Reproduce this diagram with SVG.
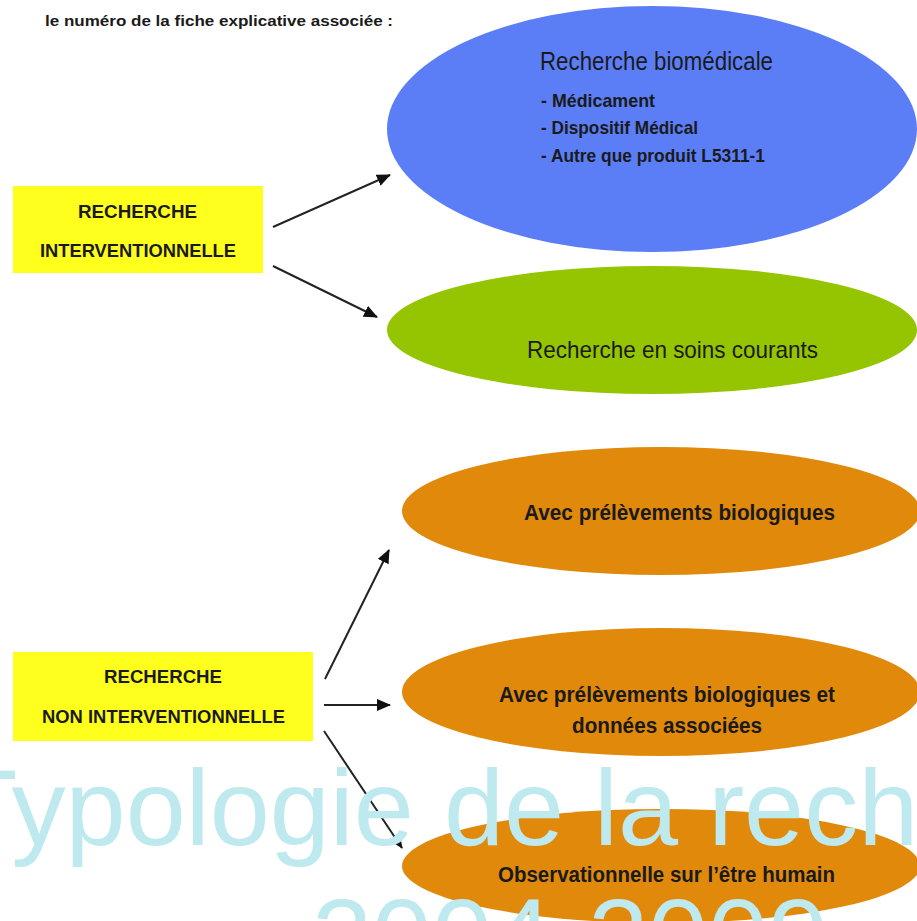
<svg xmlns="http://www.w3.org/2000/svg" width="917" height="921" viewBox="0 0 917 921">
<style>
.t{font-family:"Liberation Sans",Arial,sans-serif;fill:#1a1a1a}
.b{font-weight:bold}
.wm{font-family:"Liberation Sans",Arial,sans-serif;fill:#bde9ef;font-size:108px;text-anchor:middle}
.ln{stroke:#222;stroke-width:2;fill:none;marker-end:url(#ah)}
</style>
<defs>
<marker id="ah" markerUnits="userSpaceOnUse" markerWidth="14" markerHeight="12" refX="13" refY="6" orient="auto">
<path d="M0,0 L14,6 L0,12 Z" fill="#111"/>
</marker>
</defs>
<rect width="917" height="921" fill="#ffffff"/>
<text class="t b" x="45" y="26" font-size="14" textLength="348" lengthAdjust="spacingAndGlyphs" fill="#2a2a2a">le numéro de la fiche explicative associée :</text>

<g id="box-interventionnelle">
<rect x="13" y="186" width="250" height="87" fill="#ffff1e"/>
<text class="t b" x="78" y="218" font-size="18" textLength="119" lengthAdjust="spacingAndGlyphs">RECHERCHE</text>
<text class="t b" x="40" y="257" font-size="18" textLength="196" lengthAdjust="spacingAndGlyphs">INTERVENTIONNELLE</text>
</g>

<g id="box-non-interventionnelle">
<rect x="13" y="652" width="300" height="89" fill="#ffff1e"/>
<text class="t b" x="104" y="683" font-size="18" textLength="118" lengthAdjust="spacingAndGlyphs">RECHERCHE</text>
<text class="t b" x="42" y="723" font-size="18" textLength="243" lengthAdjust="spacingAndGlyphs">NON INTERVENTIONNELLE</text>
</g>

<g id="recherche-biomedicale">
<ellipse cx="652" cy="129" rx="265" ry="123" fill="#5b7ef6"/>
<text class="t" x="540" y="70" font-size="25" textLength="233" lengthAdjust="spacingAndGlyphs" fill="#1c2140">Recherche biomédicale</text>
<text class="t b" x="541" y="107" font-size="19" textLength="114" lengthAdjust="spacingAndGlyphs" fill="#141830">- Médicament</text>
<text class="t b" x="541" y="134" font-size="19" textLength="157" lengthAdjust="spacingAndGlyphs" fill="#141830">- Dispositif Médical</text>
<text class="t b" x="541" y="162" font-size="19" textLength="224" lengthAdjust="spacingAndGlyphs" fill="#141830">- Autre que produit L5311-1</text>
</g>

<g id="soins-courants">
<ellipse cx="652" cy="330" rx="265" ry="64" fill="#95c500"/>
<text class="t" x="527" y="358" font-size="24" textLength="291" lengthAdjust="spacingAndGlyphs" fill="#1c2408">Recherche en soins courants</text>
</g>

<g id="prelevements">
<ellipse cx="661" cy="511" rx="259" ry="64" fill="#e0890b"/>
<text class="t b" x="524" y="520" font-size="22" textLength="311" lengthAdjust="spacingAndGlyphs" fill="#2a1a05">Avec prélèvements biologiques</text>
</g>

<g id="prelevements-donnees">
<ellipse cx="661" cy="692" rx="259" ry="64" fill="#e0890b"/>
<text class="t b" x="499" y="702" font-size="22" textLength="336" lengthAdjust="spacingAndGlyphs" fill="#2a1a05">Avec prélèvements biologiques et</text>
<text class="t b" x="572" y="733" font-size="22" textLength="190" lengthAdjust="spacingAndGlyphs" fill="#2a1a05">données associées</text>
</g>

<g id="observationnelle">
<ellipse cx="661" cy="866" rx="259" ry="57" fill="#e0890b"/>
<text class="t b" x="498" y="882" font-size="22" textLength="337" lengthAdjust="spacingAndGlyphs" fill="#2a1a05">Observationnelle sur l’être humain</text>
</g>

<g id="connectors">
<line class="ln" x1="273" y1="227" x2="390" y2="175"/>
<line class="ln" x1="273" y1="266" x2="377" y2="317"/>
<line class="ln" x1="325" y1="679" x2="389" y2="550"/>
<line class="ln" x1="324" y1="705" x2="390" y2="705"/>
<line class="ln" x1="324" y1="731" x2="402" y2="848"/>
</g>

<g id="watermark">
<text class="wm" x="570" y="845">Typologie de la recherche</text>
<text class="wm" x="570" y="974">2004-2009</text>
</g>
</svg>
